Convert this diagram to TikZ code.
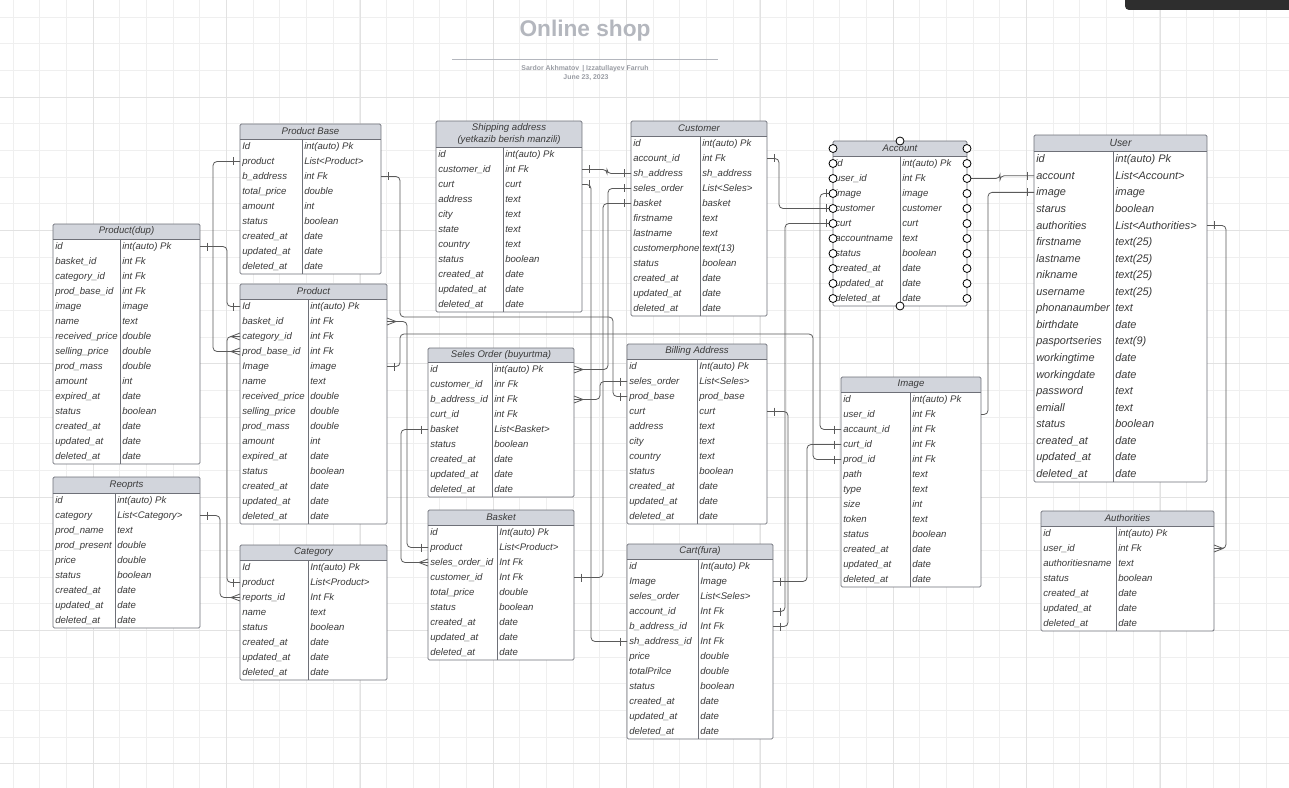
\documentclass[tikz,border=0pt]{standalone}
\usepackage{fontspec}
\setmainfont{Liberation Sans}
\usetikzlibrary{calc}
\definecolor{hdr}{HTML}{D2D5DC}
\definecolor{tbl}{HTML}{6E7078}
\definecolor{txt}{HTML}{3A3A3A}
\definecolor{cn}{HTML}{5A5A5A}
\definecolor{gridmin}{HTML}{EFEFEF}
\definecolor{gridmaj}{HTML}{E2E2E2}
\definecolor{ttl}{HTML}{B4B7BE}
\definecolor{subt}{HTML}{9A9DA4}
\definecolor{darkbar}{HTML}{2E2E2E}

\newcommand\erfont{\itshape\fontsize{7.2}{8.3}\selectfont}
\newcommand\erhfont{\itshape\fontsize{7.2}{8.3}\selectfont}
\newcommand\erbase{3}

\tikzset{
  tblline/.style={draw=tbl, line width=0.6pt},
  hdrtext/.style={font=\erhfont, text=txt, inner sep=0, align=center},
  celltext/.style={anchor=base west, inner sep=0, font=\erfont, text=txt},
  conn/.style={draw=cn, line width=0.6pt, rounded corners=3pt},
  tickline/.style={draw=cn, line width=0.6pt},
  selcirc/.style={draw=black, fill=white, line width=0.6pt},
  gminor/.style={draw=gridmin, line width=0.4pt},
  gmajor/.style={draw=gridmaj, line width=0.5pt},
}

% #1 name, #2 x1, #3 y1, #4 x2, #5 divider x, #6 header bottom y, #7 row pitch, #8 title, #9 rows
\newcommand\ertable[9]{%
  \foreach \a/\b [count=\i] in {#9} {\xdef\ernrows{\i}}%
  \pgfmathsetmacro\erbot{#6+#7*\ernrows}%
  \fill[white] (#2,#3) rectangle (#4,\erbot);
  \fill[hdr] (#2,#3) rectangle (#4,#6);
  \draw[tblline] (#2,#6) -- (#4,#6);
  \draw[tblline] (#5,#6) -- (#5,\erbot);
  \draw[tblline, rounded corners=1pt] (#2,#3) rectangle (#4,\erbot);
  \node[hdrtext] (#1) at ({(#2+#4)/2},{(#3+#6)/2}) {#8};
  \foreach \a/\b [count=\i] in {#9} {%
    \pgfmathsetmacro\ery{#6+#7*(\i-0.5)}%
    \node[celltext] (#1-l\i) at (#2+2,\ery+\erbase) {\a};
    \node[celltext] (#1-r\i) at (#5+2,\ery+\erbase) {\b};
    \coordinate (#1-w\i) at (#2,\ery);
    \coordinate (#1-e\i) at (#4,\ery);
  }%
}

\newcommand\oneW[1]{\draw[tickline] ($(#1)+(-7,-4)$) -- ($(#1)+(-7,4)$);}
\newcommand\oneE[1]{\draw[tickline] ($(#1)+(7,-4)$) -- ($(#1)+(7,4)$);}
\newcommand\crowW[1]{\draw[tickline] ($(#1)+(0,-3.5)$) -- ($(#1)+(-9,0)$) -- ($(#1)+(0,3.5)$);}
\newcommand\crowE[1]{\draw[tickline] ($(#1)+(0,-3.5)$) -- ($(#1)+(9,0)$) -- ($(#1)+(0,3.5)$);}

\begin{document}
\begin{tikzpicture}[x=0.75pt, y=-0.75pt]
\useasboundingbox (0,0) rectangle (1289,788);
\fill[white] (0,0) rectangle (1289,788);

% grid
\foreach \k in {0,...,48} {\draw[gminor] (13+26.667*\k,0) -- (13+26.667*\k,788);}
\foreach \k in {0,...,29} {\draw[gminor] (0,17+26.667*\k) -- (1289,17+26.667*\k);}
\foreach \k in {0,...,9} {\draw[gmajor] (-40+133.333*\k,0) -- (-40+133.333*\k,788);}
\foreach \k in {0,...,5} {\draw[gmajor] (0,97+133.333*\k) -- (1289,97+133.333*\k);}

% top-right bar
\fill[darkbar, rounded corners=3pt] (1125,-8) rectangle (1300,10);

% title
\node[font=\bfseries\fontsize{17}{20}\selectfont, text=ttl, inner sep=0] (title) at (585,30.5) {Online shop};
\draw[draw=ttl, line width=0.6pt] (452,59) -- (718,59);
\node[font=\bfseries\fontsize{5.2}{6}\selectfont, text=subt, inner sep=0] (authors) at (585,68.5) {Sardor Akhmatov \,| Izzatullayev Farruh};
\node[font=\bfseries\fontsize{5.2}{6}\selectfont, text=subt, inner sep=0] (date) at (586,78) {June 23, 2023};

% tables
\ertable{pb}{240}{124}{381}{302}{139}{15}{Product Base}{Id/int(auto) Pk, product/List<Product>, b\_address/int Fk, total\_price/double, amount/int, status/boolean, created\_at/date, updated\_at/date, deleted\_at/date}

\ertable{pd}{53}{224}{200}{120}{239}{15}{Product(dup)}{id/int(auto) Pk, basket\_id/int Fk, category\_id/int Fk, prod\_base\_id/int Fk, image/image, name/text, received\_price/double, selling\_price/double, prod\_mass/double, amount/int, expired\_at/date, status/boolean, created\_at/date, updated\_at/date, deleted\_at/date}

\ertable{pr}{240}{284}{387}{308}{299}{15}{Product}{Id/int(auto) Pk, basket\_id/int Fk, category\_id/int Fk, prod\_base\_id/int Fk, Image/image, name/text, received\_price/double, selling\_price/double, prod\_mass/double, amount/int, expired\_at/date, status/boolean, created\_at/date, updated\_at/date, deleted\_at/date}

\ertable{rp}{53}{477}{200}{115}{493}{15}{Reoprts}{id/int(auto) Pk, category/List<Category>, prod\_name/text, prod\_present/double, price/double, status/boolean, created\_at/date, updated\_at/date, deleted\_at/date}

\ertable{ct}{240}{545}{387}{308}{560}{15}{Category}{Id/Int(auto) Pk, product/List<Product>, reports\_id/Int Fk, name/text, status/boolean, created\_at/date, updated\_at/date, deleted\_at/date}

\ertable{sa}{436}{121}{582}{503}{147}{15}{Shipping address\\(yetkazib berish manzili)}{id/int(auto) Pk, customer\_id/int Fk, curt/curt, address/text, city/text, state/text, country/text, status/boolean, created\_at/date, updated\_at/date, deleted\_at/date}

\ertable{cu}{631}{121}{767}{700}{136}{15}{Customer}{id/int(auto) Pk, account\_id/int Fk, sh\_address/sh\_address, seles\_order/List<Seles>, basket/basket, firstname/text, lastname/text, customerphone/text(13), status/boolean, created\_at/date, updated\_at/date, deleted\_at/date}

\ertable{so}{428}{348}{574}{492}{362}{15}{Seles Order (buyurtma)}{id/int(auto) Pk, customer\_id/inr Fk, b\_address\_id/int Fk, curt\_id/int Fk, basket/List<Basket>, status/boolean, created\_at/date, updated\_at/date, deleted\_at/date}

\ertable{bk}{428}{510}{574}{497}{525}{15}{Basket}{id/Int(auto) Pk, product/List<Product>, seles\_order\_id/Int Fk, customer\_id/Int Fk, total\_price/double, status/boolean, created\_at/date, updated\_at/date, deleted\_at/date}

\ertable{ba}{627}{344}{767}{697}{359}{15}{Billing Address}{id/Int(auto) Pk, seles\_order/List<Seles>, prod\_base/prod\_base, curt/curt, address/text, city/text, country/text, status/boolean, created\_at/date, updated\_at/date, deleted\_at/date}

\ertable{cf}{627}{544}{773}{698}{559}{15}{Cart(fura)}{id/Int(auto) Pk, Image/Image, seles\_order/List<Seles>, account\_id/Int Fk, b\_address\_id/Int Fk, sh\_address\_id/Int Fk, price/double, totalPrilce/double, status/boolean, created\_at/date, updated\_at/date, deleted\_at/date}

\ertable{ac}{833}{141}{967}{900}{156}{15}{Account}{id/int(auto) Pk, user\_id/int Fk, image/image, customer/customer, curt/curt, accountname/text, status/boolean, created\_at/date, updated\_at/date, deleted\_at/date}

\ertable{im}{841}{377}{981}{910}{392}{15}{Image}{id/int(auto) Pk, user\_id/int Fk, accaunt\_id/int Fk, curt\_id/int Fk, prod\_id/int Fk, path/text, type/text, size/int, token/text, status/boolean, created\_at/date, updated\_at/date, deleted\_at/date}

\ertable{au}{1041}{511}{1214}{1116}{526}{15}{Authorities}{id/int(auto) Pk, user\_id/int Fk, authoritiesname/text, status/boolean, created\_at/date, updated\_at/date, deleted\_at/date}

\begingroup
\renewcommand\erfont{\itshape\fontsize{8.2}{9.5}\selectfont}
\renewcommand\erhfont{\itshape\fontsize{7.8}{9}\selectfont}
\renewcommand\erbase{3.6}
\ertable{us}{1034}{135}{1207}{1113}{151}{16.55}{User}{id/int(auto) Pk, account/List<Account>, image/image, starus/boolean, authorities/List<Authorities>, firstname/text(25), lastname/text(25), nikname/text(25), username/text(25), phonanaumber/text, birthdate/date, pasportseries/text(9), workingtime/date, workingdate/date, password/text, emiall/text, status/boolean, created\_at/date, updated\_at/date, deleted\_at/date}
\endgroup

% connectors
\draw[conn] (pb-w2) -- ++(-27,0) |- (pr-w4);
\oneW{pb-w2} \crowW{pr-w4}
\draw[conn] (pd-e1) -- ++(27,0) |- (pr-w1);
\oneE{pd-e1} \oneW{pr-w1}
\draw[conn] (ct-w2) -- ++(-13,0) |- (pr-w3);
\oneW{ct-w2} \crowW{pr-w3}
\draw[conn] (rp-e2) -- ++(20,0) |- (ct-w3);
\oneE{rp-e2} \crowW{ct-w3}
\draw[conn] (pb-e3) -| (400,317) -- (613,317) |- (ba-w3);
\oneE{pb-e3} \oneW{ba-w3}
\draw[conn] (pr-e2) -- ++(20,0) |- (bk-w2);
\crowE{pr-e2} \oneW{bk-w2}
\draw[conn] (pr-e5) -| (400,334) -| ($(im-w5)+(-28,0)$) -- (im-w5);
\oneE{pr-e5} \oneW{im-w5}
\draw[conn] (sa-e2) -- ++(25,0) |- (cu-w3);
\oneE{sa-e2} \oneW{cu-w3}
\draw[conn] (sa-e3) -- ++(9,0) |- (cf-w6);
\oneE{sa-e3} \oneW{cf-w6}
\draw[conn] (cu-w4) -- ++(-23,0) |- (so-e1);
\oneW{cu-w4} \crowE{so-e1}
\draw[conn] (cu-w5) -- ++(-28,0) |- (bk-e4);
\oneW{cu-w5} \oneE{bk-e4}
\draw[conn] (ba-w2) -- ++(-27,0) |- (so-e3);
\oneW{ba-w2} \crowE{so-e3}
\draw[conn] (so-w5) -- ++(-27,0) |- (bk-w3);
\oneW{so-w5} \crowW{bk-w3}
\draw[conn] (cu-e2) -- ++(12,0) |- (ac-w4);
\oneE{cu-e2} \oneW{ac-w4}
\draw[conn] (ac-w3) -- ++(-13,0) |- (im-w3);
\oneW{ac-w3} \oneW{im-w3}
\draw[conn] (ac-w5) -- ++(-48,0) |- (cf-e4);
\oneW{ac-w5} \oneE{cf-e4}
\draw[conn] (ba-e4) -- ++(21,0) |- (cf-e5);
\oneE{ba-e4} \oneE{cf-e5}
\draw[conn] (cf-e2) -- ++(34,0) |- (im-w4);
\oneE{cf-e2} \oneW{im-w4}
\draw[conn] (us-w2) -- ++(-34,0) |- (ac-e2);
\oneW{us-w2}
\draw[conn] (us-w3) -- ++(-46,0) |- (im-e2);
\oneW{us-w3}
\draw[conn] (us-e5) -- ++(19,0) |- (au-e2);
\oneE{us-e5} \crowE{au-e2}

% selection handles on Account
\foreach \i in {1,...,10} {
  \draw[selcirc] (ac-w\i) circle[radius=3pt];
  \draw[selcirc] (ac-e\i) circle[radius=3pt];
}
\draw[selcirc] (833,148.5) circle[radius=3pt];
\draw[selcirc] (967,148.5) circle[radius=3pt];
\draw[selcirc] (900,141) circle[radius=3pt];
\draw[selcirc] (900,306) circle[radius=3pt];
\end{tikzpicture}
\end{document}
